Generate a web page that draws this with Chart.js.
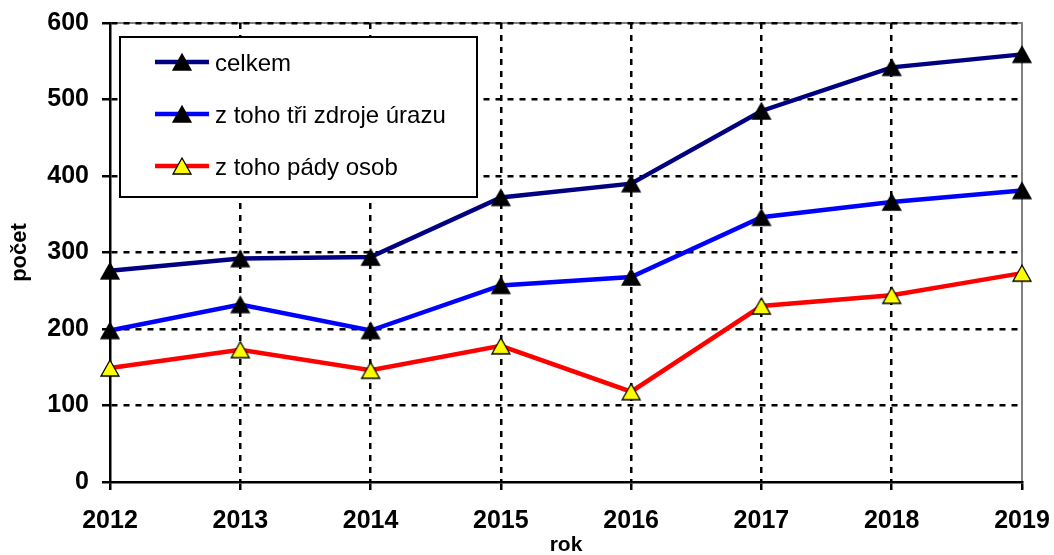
<!DOCTYPE html>
<html>
<head>
<meta charset="utf-8">
<script src="https://cdn.jsdelivr.net/npm/chart.js@4/dist/chart.umd.min.js"></script>
<style>
  html, body { margin: 0; padding: 0; background: #fff; }
  #wrap { width: 1054px; height: 555px; }
</style>
</head>
<body>
<div id="wrap"><canvas id="myChart" width="1054" height="555"></canvas></div>
<script>
// data
const years = ['2012', '2013', '2014', '2015', '2016', '2017', '2018', '2019'];
const celkem = [276, 292, 294, 372, 390, 485, 542, 559];
const triZdroje = [198, 232, 198, 257, 268, 346, 366, 381];
const padyOsob = [149, 173, 146, 178, 118, 230, 244, 273];
const seriesNames = ['celkem', 'z toho tři zdroje úrazu', 'z toho pády osob'];
const yTicks = [0, 100, 200, 300, 400, 500, 600];

const FONT = '"Liberation Sans", Arial, sans-serif';

// triangle marker centred on its bounding box (like the original)
function makeTriangle(fill) {
    const c = document.createElement('canvas');
    c.width = 24; c.height = 24;
    const g = c.getContext('2d');
    g.beginPath();
    g.moveTo(12, 4);
    g.lineTo(21, 20);
    g.lineTo(3, 20);
    g.closePath();
    g.fillStyle = fill;
    g.fill();
    g.lineWidth = 1.3;
    g.strokeStyle = '#000';
    g.stroke();
    return c;
}
const triBlack = makeTriangle('#000000');
const triYellow = makeTriangle('#ffff00');

// grey frame on top and right, under the grid
const framePlugin = {
    id: 'frame',
    beforeDraw(chart) {
        const { ctx, chartArea: a } = chart;
        ctx.save();
        ctx.strokeStyle = '#808080';
        ctx.lineWidth = 2;
        ctx.beginPath();
        ctx.moveTo(a.left, a.top);
        ctx.lineTo(a.right, a.top);
        ctx.lineTo(a.right, a.bottom);
        ctx.stroke();
        ctx.restore();
    }
};

// boxed legend inside the plot
const legendBox = {
    id: 'legendBox',
    afterDraw(chart) {
        const ctx = chart.ctx;
        const rows = [62, 114, 166];
        ctx.save();
        ctx.fillStyle = '#fff';
        ctx.fillRect(120, 37, 357, 160);
        ctx.strokeStyle = '#000';
        ctx.lineWidth = 2;
        ctx.strokeRect(120, 37, 357, 160);
        chart.data.datasets.forEach((ds, i) => {
            const y = rows[i];
            ctx.strokeStyle = ds.borderColor;
            ctx.lineWidth = ds.borderWidth;
            ctx.beginPath();
            ctx.moveTo(155, y);
            ctx.lineTo(209, y);
            ctx.stroke();
            const img = ds.pointStyle;
            ctx.drawImage(img, 182 - img.width / 2, y - img.height / 2);
            ctx.fillStyle = '#000';
            ctx.font = '24px ' + FONT;
            ctx.textBaseline = 'middle';
            ctx.textAlign = 'left';
            ctx.fillText(ds.label, 215, y + 2);
        });
        ctx.restore();
    }
};

const ctx = document.getElementById('myChart').getContext('2d');
new Chart(ctx, {
    type: 'line',
    data: {
        labels: years,
        datasets: [{
            label: seriesNames[0],
            data: celkem,
            borderColor: '#000080',
            borderWidth: 4.5,
            pointStyle: triBlack,
            pointRadius: 9,
            clip: false
        }, {
            label: seriesNames[1],
            data: triZdroje,
            borderColor: '#0000ff',
            borderWidth: 4.5,
            pointStyle: triBlack,
            pointRadius: 9,
            clip: false
        }, {
            label: seriesNames[2],
            data: padyOsob,
            borderColor: '#ff0000',
            borderWidth: 4.5,
            pointStyle: triYellow,
            pointRadius: 9,
            clip: false
        }]
    },
    options: {
        responsive: false,
        animation: false,
        layout: { padding: { left: 0, right: 32, top: 23, bottom: 0 } },
        plugins: {
            legend: { display: false },
            tooltip: { enabled: false }
        },
        scales: {
            x: {
                offset: false,
                afterFit: (scale) => {
                    scale.height = 73;
                    scale.paddingLeft = 0;
                    scale.paddingRight = 0;
                },
                grid: {
                    color: (c) => (c.index === 0 || c.index === years.length - 1) ? 'rgba(0,0,0,0)' : '#000',
                    lineWidth: 2.5,
                    tickLength: 8,
                    tickColor: '#000',
                    tickWidth: 2.5,
                    tickBorderDash: []
                },
                border: { display: true, color: '#000', width: 2.5, dash: [6, 6] },
                ticks: {
                    color: '#000',
                    padding: 16,
                    maxRotation: 0,
                    font: { family: FONT, size: 25, weight: 'bold' }
                },
                title: {
                    display: true,
                    text: 'rok',
                    color: '#000',
                    padding: { top: 0, bottom: 0 },
                    font: { family: FONT, size: 21, weight: 'bold', lineHeight: 0.9 }
                }
            },
            y: {
                min: 0,
                max: 600,
                afterFit: (scale) => {
                    scale.width = 110;
                    scale.paddingTop = 0;
                    scale.paddingBottom = 0;
                },
                afterBuildTicks: (scale) => { scale.ticks = yTicks.map(v => ({ value: v })); },
                grid: {
                    color: (c) => c.index === 0 ? 'rgba(0,0,0,0)' : '#000',
                    lineWidth: 2.5,
                    tickLength: 8,
                    tickColor: '#000',
                    tickWidth: 2.5,
                    tickBorderDash: []
                },
                border: { display: true, color: '#000', width: 2.5, dash: [6, 6] },
                ticks: {
                    color: '#000',
                    padding: 13,
                    font: { family: FONT, size: 25, weight: 'bold' }
                },
                title: {
                    display: true,
                    text: 'počet',
                    color: '#000',
                    padding: { top: 9, bottom: 0 },
                    font: { family: FONT, size: 22, weight: 'bold', lineHeight: 1 }
                }
            }
        }
    },
    plugins: [framePlugin, legendBox]
});
</script>
</body>
</html>
